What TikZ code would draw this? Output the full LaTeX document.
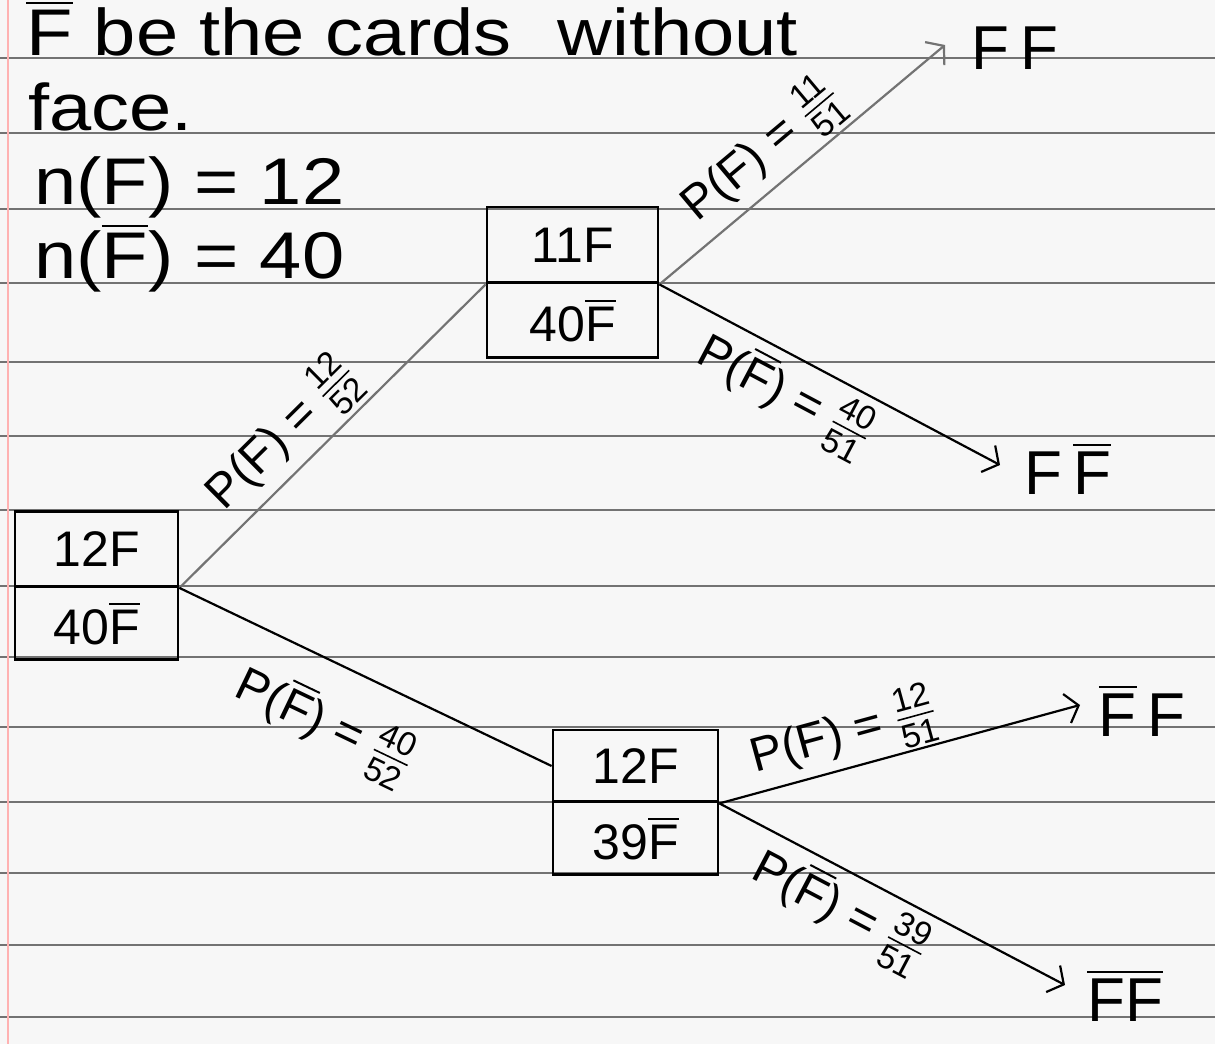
\documentclass[tikz,border=0pt]{standalone}
\usepackage{amsmath}
\usepackage{graphicx}
\usepackage{fontspec}
\setmainfont{Liberation Sans}
\usetikzlibrary{arrows.meta}
% F with a bar: a card without a face
\newcommand\Fb{\ensuremath{\overline{\text{F}}}}
% small stacked fraction written in the text font
\newcommand\hfr[2]{\ensuremath{\genfrac{}{}{0.8pt}{}{\text{#1}}{\text{#2}}}}
% wide hand lettering for the notes
\newcommand\wide[1]{\scalebox{1.15}[1]{#1}}
\begin{document}
\begin{tikzpicture}[x=0.5pt,y=-0.5pt,
  ruled/.style={draw=black!55, line width=1pt},
  cell/.style={draw, line width=1.4pt, inner sep=0pt, font=\fontsize{25}{27}\selectfont},
  branch/.style={line width=1.1pt},
  pencil/.style={draw=black!55},
  tip/.style={-{Straight Barb[length=6pt,width=15pt,line width=1.1pt]}},
  prob/.style={sloped, font=\fontsize{24}{26}\selectfont, inner sep=1pt},
  leaf/.style={font=\fontsize{31}{33}\selectfont, inner sep=0pt},
  note/.style={anchor=base west, font=\fontsize{33}{35}\selectfont, inner sep=0pt}]

% paper
\fill[black!3] (0,0) rectangle (1215,1044);
\useasboundingbox (0,0) rectangle (1215,1044);
\foreach \y in {58,133,209,283,362,436,510,586,657,727,802,873,945,1017}
  \draw[ruled] (0,\y) -- (1215,\y);
\draw[red!30, line width=0.8pt] (8,0) -- (8,1044);

% definitions written at the top
\node[note] (l1) at (26,55) {\wide{\Fb{} be the cards\hspace{20pt}without}};
\node[note] (l2) at (28,130) {\wide{face.}};
\node[note] (l3) at (34,204) {\wide{n(F) = 12}};
\node[note] (l4) at (34,278) {\wide{n(\Fb) = 40}};

% root box
\node[cell, minimum width=81.5pt, minimum height=37.5pt] (r1) at (96.5,549) {12F};
\node[cell, minimum width=81.5pt, minimum height=36.5pt] (r2) at (96.5,623) {40\Fb};

% second draw after a face card
\node[cell, minimum width=85.5pt, minimum height=38pt] (a1) at (572.5,245) {11F};
\node[cell, minimum width=85.5pt, minimum height=37.5pt] (a2) at (572.5,320) {40\Fb};

% second draw after a card without face
\node[cell, minimum width=82.5pt, minimum height=36pt] (b1) at (635.5,766) {12F};
\node[cell, minimum width=82.5pt, minimum height=36.5pt] (b2) at (635.5,838) {39\Fb};

% outcomes
\node[leaf] (oFF) at (1015,48) {F\,F};
\node[leaf] (oFFb) at (1068,468) {F\,\Fb};
\node[leaf] (oFbF) at (1142,710) {\Fb\,F};
\node[leaf] (oFbFb) at (1125,995) {\Fb\Fb};
\coordinate (tFF) at (945,45);
\coordinate (tFFb) at (1000,465);
\coordinate (tFbF) at (1080,705);
\coordinate (tFbFb) at (1065,985);

% first draw
\draw[branch, pencil] (r1.south east) -- (a1.south west)
  node[prob, above, pos=0.42, yshift=1pt] {P(F) = \hfr{12}{52}};
\draw[branch] (r1.south east) -- (b1.west)
  node[prob, below, pos=0.46, yshift=-14pt] {P(\Fb) = \hfr{40}{52}};

% second draw
\draw[branch, pencil, tip] (a1.south east) -- (tFF)
  node[prob, above, pos=0.44, yshift=1pt] {P(F) = \hfr{11}{51}};
\draw[branch, tip] (a1.south east) -- (tFFb)
  node[prob, below, pos=0.42, yshift=-3pt] {P(\Fb) = \hfr{40}{51}};
\draw[branch, tip] (b1.south east) -- (tFbF)
  node[prob, above, pos=0.37, yshift=0pt] {P(F) = \hfr{12}{51}};
\draw[branch, tip] (b1.south east) -- (tFbFb)
  node[prob, below, pos=0.40, yshift=-3pt] {P(\Fb) = \hfr{39}{51}};
\end{tikzpicture}
\end{document}
